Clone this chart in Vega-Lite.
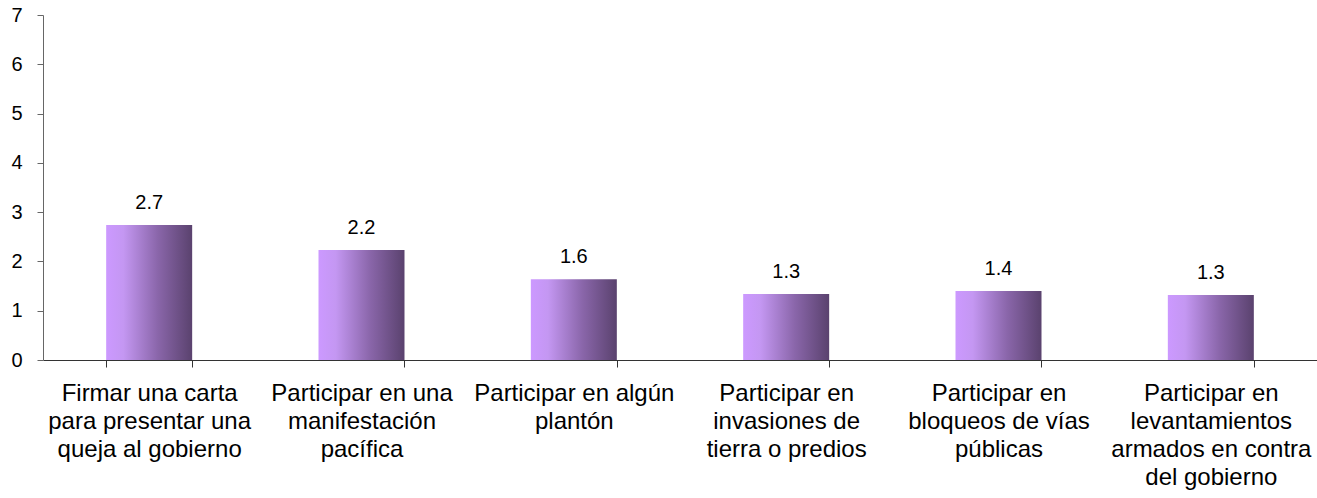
{
  "$schema": "https://vega.github.io/schema/vega-lite/v6.json",
  "width": 1274,
  "height": 345,
  "autosize": "none",
  "padding": {"left": 43, "top": 15, "right": 0, "bottom": 138},
  "background": "white",
  "config": {
    "font": "Liberation Sans",
    "view": {"stroke": null}
  },
  "data": {
    "values": [
      {"accion": "Firmar una carta|para presentar una|queja al gobierno", "valor": 2.74, "etiqueta": "2.7"},
      {"accion": "Participar en una|manifestación|pacífica", "valor": 2.23, "etiqueta": "2.2"},
      {"accion": "Participar en algún|plantón", "valor": 1.64, "etiqueta": "1.6"},
      {"accion": "Participar en|invasiones de|tierra o predios", "valor": 1.34, "etiqueta": "1.3"},
      {"accion": "Participar en|bloqueos de vías|públicas", "valor": 1.40, "etiqueta": "1.4"},
      {"accion": "Participar en|levantamientos|armados en contra|del gobierno", "valor": 1.32, "etiqueta": "1.3"}
    ]
  },
  "encoding": {
    "x": {
      "field": "accion",
      "type": "nominal",
      "sort": null,
      "scale": {"paddingInner": 0.595, "paddingOuter": 0.2975},
      "axis": {
        "title": null,
        "labelAngle": 0,
        "labelExpr": "split(datum.label, '|')",
        "labelFontSize": 24,
        "labelLineHeight": 28,
        "labelColor": "black",
        "labelPadding": 14,
        "labelLimit": 300,
        "tickBand": "extent",
        "tickSize": 7,
        "tickColor": "#333333",
        "domainColor": "#333333",
        "grid": false
      }
    },
    "y": {
      "field": "valor",
      "type": "quantitative",
      "scale": {"domain": [0, 7], "nice": false},
      "axis": {
        "title": null,
        "values": [0, 1, 2, 3, 4, 5, 6, 7],
        "grid": false,
        "labelFontSize": 20,
        "labelColor": "black",
        "labelPadding": 15,
        "tickSize": 6,
        "tickColor": "#666666",
        "domainColor": "#666666"
      }
    }
  },
  "layer": [
    {
      "mark": {
        "type": "bar",
        "color": {
          "gradient": "linear",
          "x1": 0, "y1": 0, "x2": 1, "y2": 0,
          "stops": [
            {"offset": 0, "color": "#cc99ff"},
            {"offset": 0.2, "color": "#c497f2"},
            {"offset": 0.6, "color": "#8a66aa"},
            {"offset": 1, "color": "#5a426e"}
          ]
        }
      }
    },
    {
      "mark": {"type": "text", "baseline": "bottom", "dy": -12, "fontSize": 20, "color": "black"},
      "encoding": {"text": {"field": "etiqueta"}}
    }
  ]
}
